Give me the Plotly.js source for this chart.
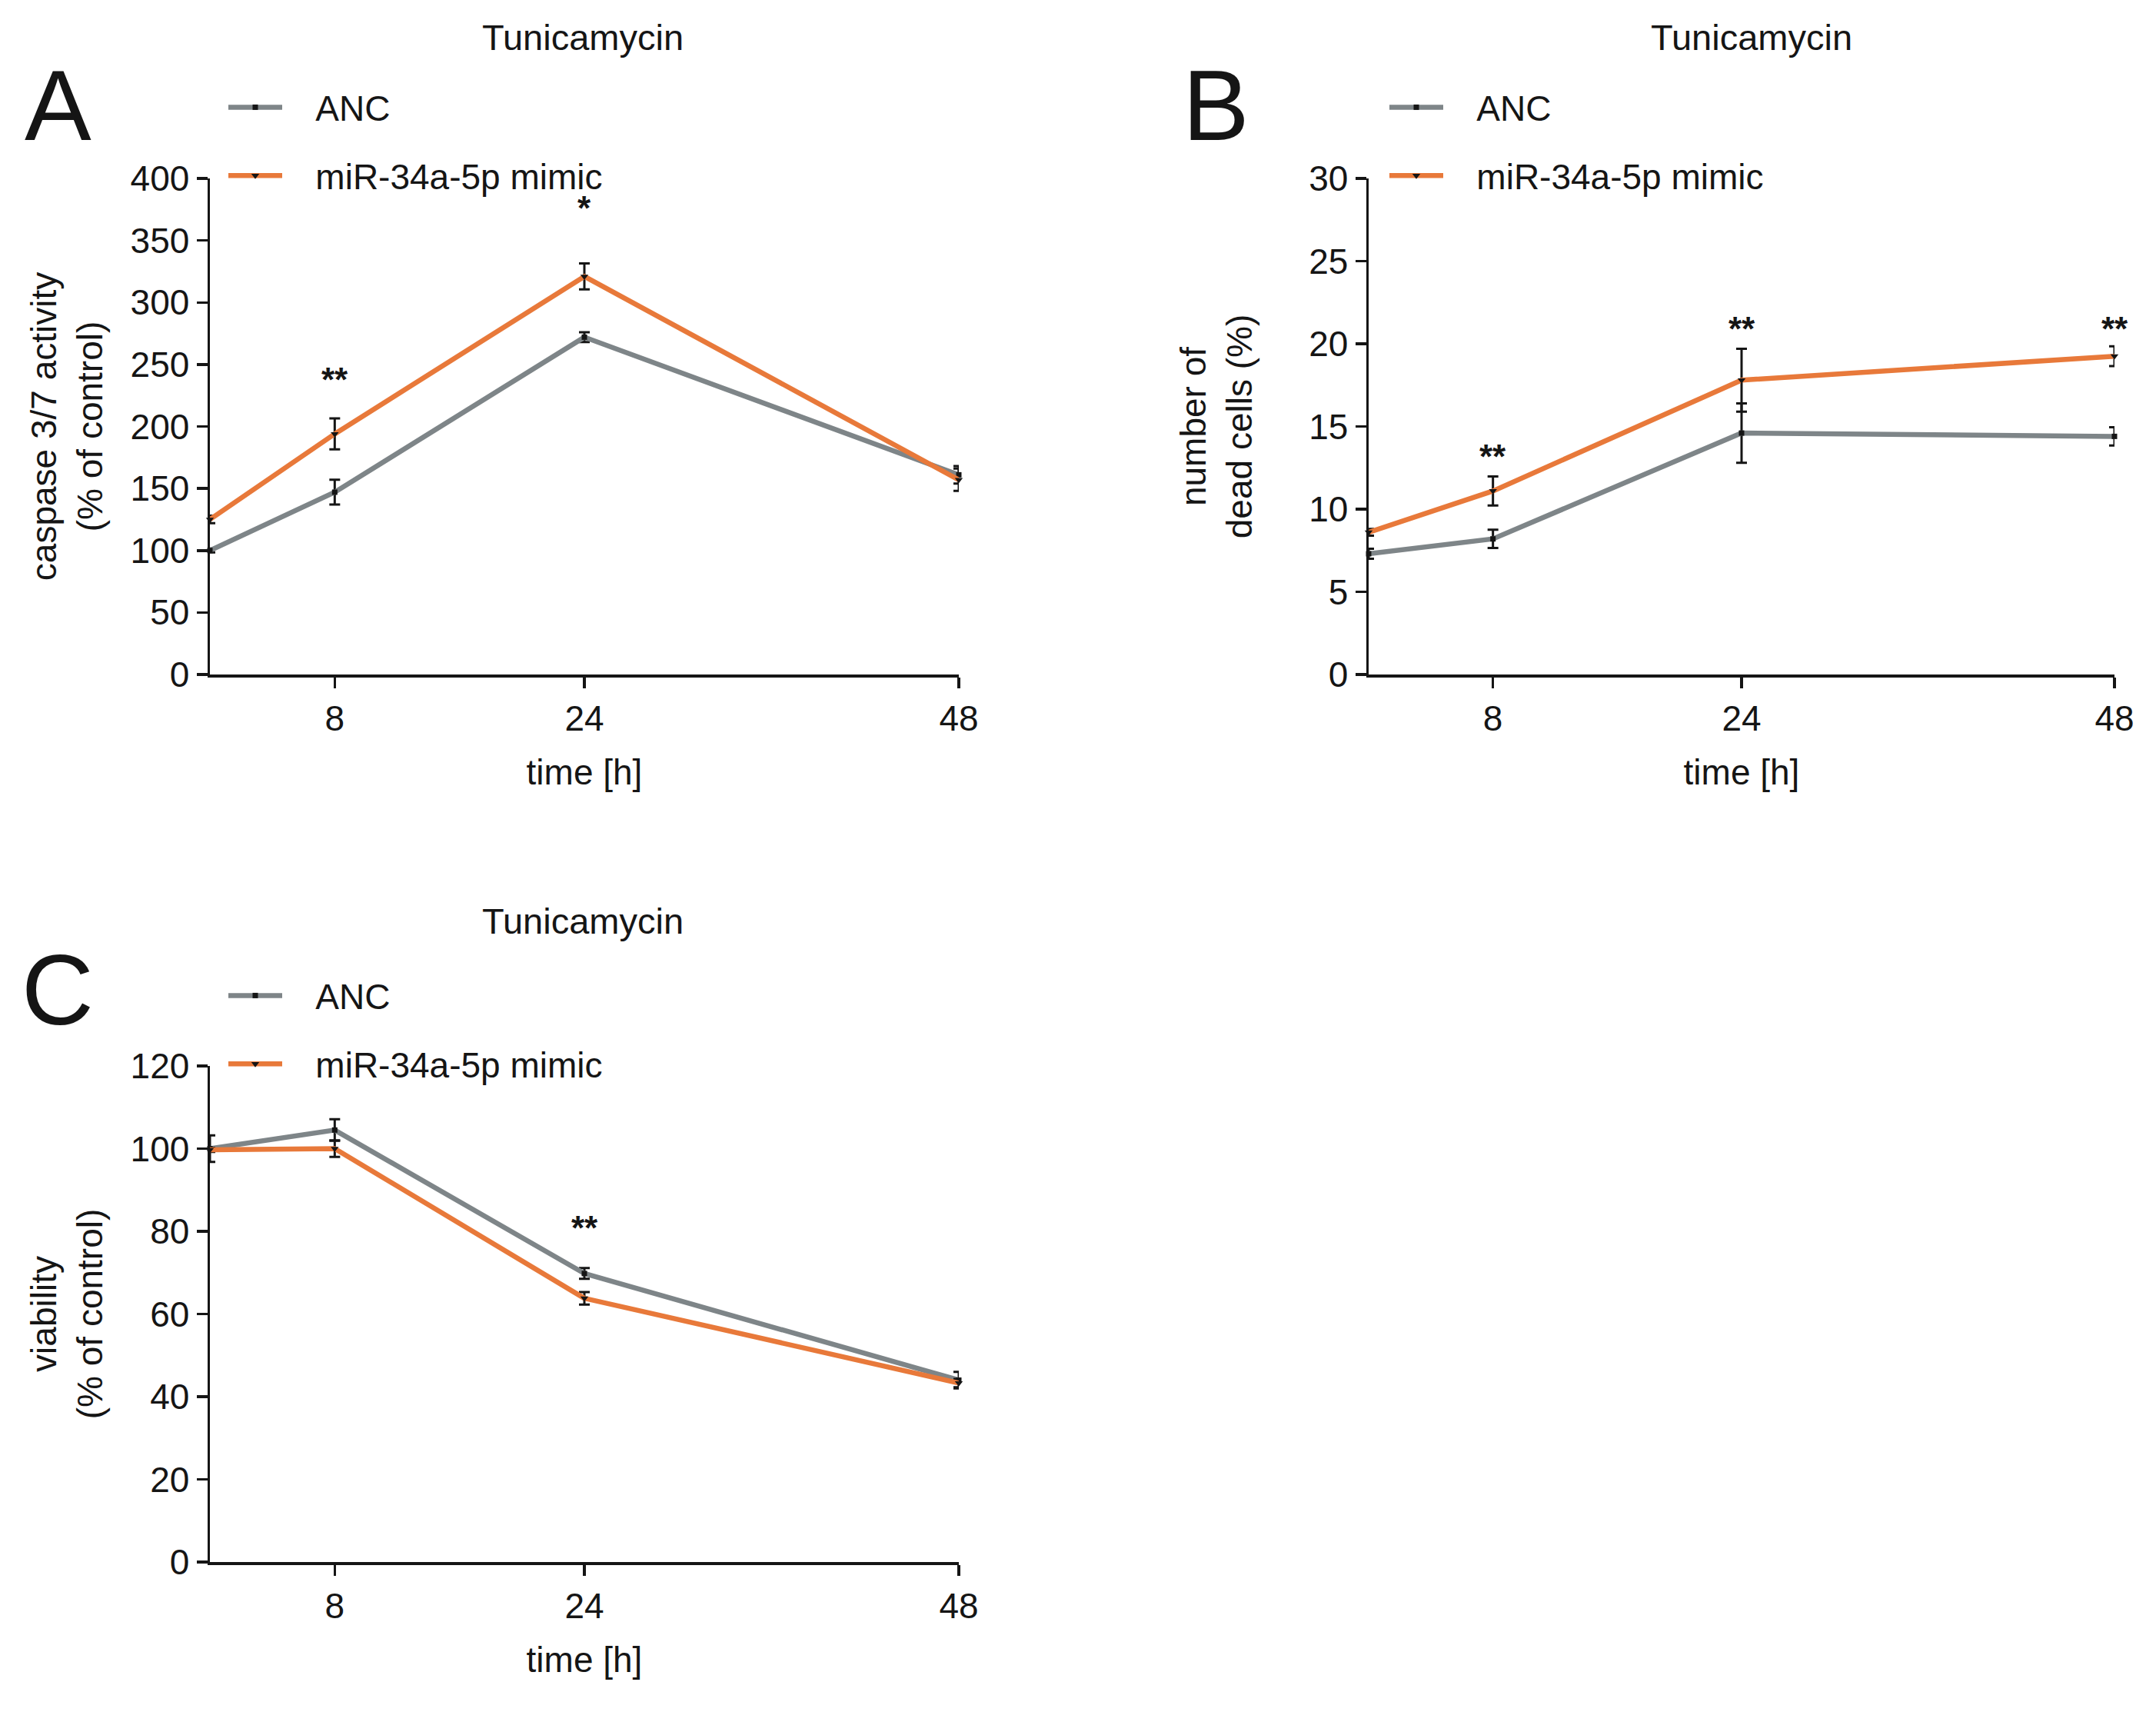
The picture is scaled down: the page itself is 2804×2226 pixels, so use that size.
<!DOCTYPE html>
<html>
<head>
<meta charset="utf-8">
<script src="https://cdn.plot.ly/plotly-3.0.1.min.js"></script>
<style>html,body{margin:0;padding:0;background:#fff;}#chart{width:2804px;height:2226px;}</style>
</head>
<body>
<div id="chart"></div>
<script>
// ---------- data ----------
const times = [0, 8, 24, 48];
const timeTicks = [8, 24, 48];
const seriesNames = ["ANC", "miR-34a-5p mimic"];

// Panel A: caspase 3/7 activity (% of control)
const ancCaspase = [100, 147, 272, 161];
const ancCaspaseErr = [1.5, 10, 4, 7];
const mimicCaspase = [125, 194, 321, 157];
const mimicCaspaseErr = [3, 12.5, 10.5, 9];
const starXA = [8, 24];
const starYA = [238, 376];
const starTextA = ["**", "*"];

// Panel B: number of dead cells (%)
const ancDead = [7.3, 8.2, 14.6, 14.4];
const ancDeadErr = [0.3, 0.55, 1.8, 0.55];
const mimicDead = [8.6, 11.1, 17.8, 19.25];
const mimicDeadErr = [0.2, 0.88, 1.9, 0.6];
const starXB = [8, 24, 48];
const starYB = [13.2, 20.9, 20.9];
const starTextB = ["**", "**", "**"];

// Panel C: viability (% of control)
const ancViab = [100, 104.5, 69.8, 44];
const ancViabErr = [3.2, 2.6, 1.3, 2];
const mimicViab = [99.7, 100, 63.8, 43.3];
const mimicViabErr = [0.5, 2, 1.5, 1];
const starXC = [24];
const starYC = [80.9];
const starTextC = ["**"];

// ---------- style ----------
const W = 2804, H = 2226;
const px = x => x / W;
const py = y => 1 - y / H;
const FONT = "Liberation Sans, Arial, Helvetica, sans-serif";
const INK = "#151515";
const GREY = "#7e8588";
const ORANGE = "#e8793a";
const FS = 46;
const PAD = "\u00A0\u00A0\u00A0";

function mk(x, y, err, name, color, symbol, msize, xa, ya, leg, grp) {
  return {
    x: x, y: y, name: PAD + name, type: "scatter", mode: "lines+markers",
    xaxis: xa, yaxis: ya, legend: leg, legendgroup: grp,
    cliponaxis: false,
    line: {color: color, width: 6.5},
    marker: {color: INK, symbol: symbol, size: msize},
    error_y: {type: "data", array: err, visible: true, color: INK, thickness: 3, width: 7}
  };
}

const data = [
  mk(times, ancCaspase, ancCaspaseErr, seriesNames[0], GREY, "square", 7, "x", "y", "legend", "a1"),
  mk(times, mimicCaspase, mimicCaspaseErr, seriesNames[1], ORANGE, "triangle-down", 9, "x", "y", "legend", "a2"),
  mk(times, ancDead, ancDeadErr, seriesNames[0], GREY, "square", 7, "x2", "y2", "legend2", "b1"),
  mk(times, mimicDead, mimicDeadErr, seriesNames[1], ORANGE, "triangle-down", 9, "x2", "y2", "legend2", "b2"),
  mk(times, ancViab, ancViabErr, seriesNames[0], GREY, "square", 7, "x3", "y3", "legend3", "c1"),
  mk(times, mimicViab, mimicViabErr, seriesNames[1], ORANGE, "triangle-down", 9, "x3", "y3", "legend3", "c2")
];

function xAx(domain, anchor) {
  return {
    domain: domain, anchor: anchor, range: [0, 48], tickmode: "array", tickvals: timeTicks,
    ticktext: timeTicks.map(String),
    showline: true, linecolor: INK, linewidth: 3.5, ticks: "outside", ticklen: 14, tickwidth: 3.5,
    tickcolor: INK, showgrid: false, zeroline: false,
    tickfont: {family: FONT, size: FS, color: INK},
    title: {text: "time [h]", font: {family: FONT, size: FS, color: INK}, standoff: 30}
  };
}
function yAx(domain, anchor, range, dtick, title, standoff) {
  return {
    domain: domain, anchor: anchor, range: range, dtick: dtick, tick0: 0,
    showline: true, linecolor: INK, linewidth: 3.5, ticks: "outside", ticklen: 14, tickwidth: 3.5,
    tickcolor: INK, showgrid: false, zeroline: false,
    tickfont: {family: FONT, size: FS, color: INK},
    title: {text: title, font: {family: FONT, size: FS, color: INK}, standoff: standoff}
  };
}

const leftDom = [px(273), px(1247)];
const rightDom = [px(1780), px(2750)];
const topDom = [py(877), py(232)];
const botDom = [py(2031), py(1386)];

function starAnn(xs, ys, texts, xr, yr) {
  return xs.map((x, i) => ({
    x: x, y: ys[i], xref: xr, yref: yr, text: texts[i], showarrow: false,
    font: {family: FONT, size: 44, color: INK, weight: "bold"}, yanchor: "middle"
  }));
}
function textAnn(text, x, y, size) {
  return {x: px(x), y: py(y), xref: "paper", yref: "paper", text: text, showarrow: false,
    xanchor: "center", yanchor: "middle", font: {family: FONT, size: size, color: INK}};
}

function leg(x, y) {
  return {x: px(x), y: py(y), xanchor: "left", yanchor: "top", bgcolor: "rgba(0,0,0,0)",
    borderwidth: 0, font: {family: FONT, size: FS, color: INK}, tracegroupgap: 26,
    traceorder: "grouped", itemwidth: 70};
}

const layout = {
  width: W, height: H, margin: {l: 0, r: 0, t: 0, b: 0},
  paper_bgcolor: "#fff", plot_bgcolor: "#fff", showlegend: true,
  xaxis: xAx(leftDom, "y"),
  yaxis: yAx(topDom, "x", [0, 400], 50, "caspase 3/7 activity<br>(% of control)", 22),
  xaxis2: xAx(rightDom, "y2"),
  yaxis2: yAx(topDom, "x2", [0, 30], 5, "number of<br>dead cells (%)", 60),
  xaxis3: xAx(leftDom, "y3"),
  yaxis3: yAx(botDom, "x3", [0, 120], 20, "viability<br>(% of control)", 22),
  legend: leg(292, 103),
  legend2: leg(1802, 103),
  legend3: leg(292, 1258),
  annotations: [].concat(
    starAnn(starXA, starYA, starTextA, "x", "y"),
    starAnn(starXB, starYB, starTextB, "x2", "y2"),
    starAnn(starXC, starYC, starTextC, "x3", "y3"),
    [textAnn("Tunicamycin", 758, 48, 47), textAnn("Tunicamycin", 2278, 48, 47), textAnn("Tunicamycin", 758, 1197, 47),
     textAnn("A", 75, 137, 130), textAnn("B", 1582, 137, 130), textAnn("C", 75, 1287, 130)]
  )
};

Plotly.newPlot("chart", data, layout, {staticPlot: true, displayModeBar: false});
</script>
</body>
</html>
